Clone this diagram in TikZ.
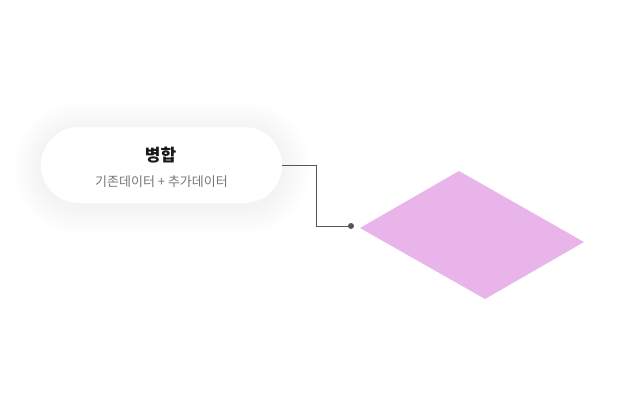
\documentclass[tikz,border=0pt]{standalone}
\usepackage{fontspec}
\setmainfont{Noto Sans CJK KR}
\definecolor{lilac}{HTML}{E8B4EA}
\definecolor{wire}{HTML}{555555}
\definecolor{subgray}{HTML}{777777}
\tikzset{
	pill/.style={rounded corners=38pt, fill=white, minimum width=241pt, minimum height=76pt},
	wirepath/.style={draw=wire, line width=0.8pt},
}

\begin{document}
\begin{tikzpicture}[x=1pt, y=-1pt]
		%%%%% START %%%%%
		
		\useasboundingbox[fill=white] (0, 0) rectangle (629, 417);
		
		% soft shadow round the pill, outer ring first
		\foreach \i [evaluate=\i as \shade using {4.5*(29-\i)/28}] in {28,...,1}{
			\fill[black!\shade, rounded corners={38+\i}] (41-\i, 130-\i) rectangle (282+\i, 206+\i);
		}
		
		\node[pill] (merge) at (161.5, 165) {};
		\node[font=\fontsize{17}{20}\selectfont\bfseries, text=black!90] (title) at (160.5, 155) {병합};
		\node[font=\fontsize{13}{15}\selectfont, text=subgray] (sub) at (161.5, 182) {기존데이터 + 추가데이터};
		
		\coordinate (left) at (360, 228);
		\coordinate (top) at (459, 171);
		\coordinate (right) at (584, 242);
		\coordinate (bottom) at (485, 299);
		\fill[lilac] (left) -- (top) -- (right) -- (bottom) -- cycle;
		
		\node[circle, fill=wire, inner sep=0pt, minimum size=6pt] (dot) at (351, 226) {};
		\draw[wirepath] (merge.east) -- ++(34, 0) |- (dot.center);
		
		%%%%% END %%%%%
	\end{tikzpicture}
\end{document}
